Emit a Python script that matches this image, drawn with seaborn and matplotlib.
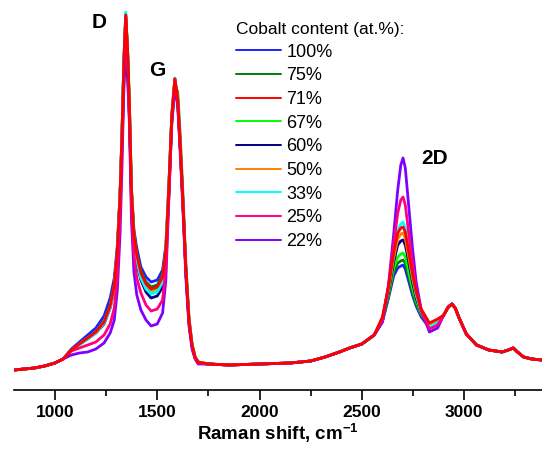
import pandas as pd
import matplotlib
matplotlib.use('Agg')
import matplotlib.pyplot as plt
import seaborn as sns
from matplotlib.ticker import MultipleLocator

# series labels (legend order) and colours
labels = ['100%', '75%', '71%', '67%', '60%', '50%', '33%', '25%', '22%']
colors = ['#2020ff', '#008000', '#ff0000', '#00ff00', '#000080',
          '#ff8000', '#00ffff', '#ff0080', '#8000ff']

# Raman shift grid, cm-1 (pieces)
x_a = [800, 850, 900, 950, 1000, 1040]
x_b = [1080, 1120, 1160, 1200, 1240, 1270, 1290, 1305, 1318, 1328, 1337, 1346,
       1355, 1364, 1374, 1386, 1400, 1420, 1445, 1470, 1500, 1526, 1542, 1556,
       1571, 1586, 1600, 1612, 1625, 1640, 1655, 1670, 1685, 1700]
x_c = [1750, 1850, 2000, 2150, 2250, 2320, 2390, 2440, 2500, 2560]
x_d = [2600, 2630, 2655, 2675, 2690, 2701, 2712, 2727, 2747, 2765, 2790, 2830, 2870]
x_e = [2900, 2922, 2940, 2956, 2975, 3010, 3060, 3120, 3185, 3215, 3240, 3260,
       3290, 3330, 3380]

# intensity (a.u.) where all spectra coincide
y_a = [20, 21, 22, 24, 27, 31]
y_c = [26, 25, 26, 27, 29, 33, 38, 42, 46, 55]
y_e = [75, 83, 86, 82, 72, 56, 45, 40, 38, 40, 42, 38, 33, 31, 30]

# D / G band region, per sample
b_100 = [41, 48, 55, 62, 74, 92, 112, 145, 195, 250, 305, 340, 310, 270, 200, 160, 142,
         123, 113, 108, 110, 120, 145, 203, 272, 305, 287, 243, 188, 118, 68, 44, 32, 27]
b_75 = [40, 46, 52, 58, 69, 85, 106, 140, 195, 258, 328, 373, 340, 286, 202, 157, 137,
        119, 108, 103, 105, 115, 138, 192, 265, 305, 298, 255, 198, 125, 73, 46, 33, 28]
b_71 = [40, 46, 52, 58, 68, 84, 105, 140, 195, 260, 330, 375, 340, 285, 200, 155, 135,
        117, 106, 101, 103, 113, 140, 200, 275, 311, 290, 245, 190, 120, 70, 45, 33, 28]
b_67 = [40, 46, 52, 58, 68, 84, 104, 139, 194, 259, 330, 376, 340, 284, 199, 154, 134,
        116, 105, 100, 102, 112, 140, 200, 275, 311, 290, 245, 190, 120, 70, 45, 33, 28]
b_60 = [40, 46, 51, 57, 66, 82, 102, 137, 192, 258, 328, 374, 338, 280, 192, 148, 126,
        110, 98, 92, 94, 103, 132, 195, 272, 310, 289, 244, 189, 118, 68, 44, 32, 27]
b_50 = [40, 46, 52, 57, 67, 83, 103, 138, 193, 259, 330, 376, 339, 283, 197, 152, 131,
        113, 102, 97, 99, 109, 138, 199, 275, 312, 291, 245, 190, 120, 70, 45, 33, 28]
b_33 = [40, 45, 51, 57, 67, 82, 102, 137, 193, 260, 332, 378, 341, 283, 196, 150, 129,
        112, 101, 96, 98, 108, 137, 199, 275, 312, 290, 245, 190, 120, 70, 45, 33, 28]
b_25 = [39, 42, 45, 48, 55, 66, 82, 115, 175, 245, 320, 374, 335, 275, 185, 135, 112,
        97, 85, 79, 81, 90, 122, 192, 272, 311, 290, 245, 190, 119, 69, 44, 32, 27]
b_22 = [35, 37, 38, 41, 47, 57, 70, 100, 155, 225, 305, 372, 330, 265, 170, 118, 95,
        80, 70, 64, 66, 77, 110, 188, 268, 302, 284, 238, 183, 112, 64, 41, 31, 26]

# 2D band region, per sample
d_100 = [68, 92, 114, 122, 124, 125, 121, 110, 95, 84, 73, 62, 66]
d_75 = [69, 94, 118, 127, 129, 130, 127, 115, 98, 86, 75, 63, 67]
d_71 = [73, 103, 137, 157, 162, 163, 158, 140, 116, 98, 81, 67, 71]
d_67 = [70, 96, 122, 133, 136, 137, 133, 120, 102, 89, 76, 64, 68]
d_60 = [70, 98, 128, 145, 149, 150, 145, 130, 108, 92, 77, 63, 67]
d_50 = [71, 100, 132, 151, 156, 157, 152, 135, 112, 95, 78, 64, 68]
d_33 = [71, 102, 138, 160, 166, 168, 162, 142, 115, 96, 78, 63, 67]
d_25 = [70, 104, 145, 177, 190, 193, 185, 160, 127, 100, 79, 61, 65]
d_22 = [68, 105, 155, 200, 225, 232, 222, 188, 142, 108, 80, 58, 62]

b_parts = [b_100, b_75, b_71, b_67, b_60, b_50, b_33, b_25, b_22]
d_parts = [d_100, d_75, d_71, d_67, d_60, d_50, d_33, d_25, d_22]

rows = []
x_all = x_a + x_b + x_c + x_d + x_e
for lab, b, d in zip(labels, b_parts, d_parts):
    y_all = y_a + b + y_c + d + y_e
    for xv, yv in zip(x_all, y_all):
        rows.append({'shift': xv, 'intensity': yv, 'Cobalt': lab})
df = pd.DataFrame(rows)

sns.set_style('white')
plt.rcParams['font.family'] = ['Liberation Sans', 'DejaVu Sans']
plt.rcParams['mathtext.default'] = 'regular'
plt.rcParams['text.color'] = 'black'
plt.rcParams['axes.labelcolor'] = 'black'
plt.rcParams['xtick.color'] = 'black'

fig = plt.figure(figsize=(5.42, 4.49), dpi=100)
ax = fig.add_axes([14 / 542, 59 / 449, 1 - 14 / 542, 390 / 449])

sns.lineplot(data=df, x='shift', y='intensity', hue='Cobalt', hue_order=labels,
             palette=dict(zip(labels, colors)), estimator=None, sort=False,
             linewidth=2.0, ax=ax)

# red and pink spectra sit on top of the bundle
for line, lab in zip(ax.lines, labels):
    if lab == '71%':
        line.set_zorder(3)
    elif lab == '25%':
        line.set_zorder(2.8)
    elif lab == '22%':
        line.set_zorder(2.6)

ax.set_xlim(800, 3380)
ax.set_ylim(0, 390)
ax.set_yticks([])
ax.set_ylabel('')
for s in ['top', 'right', 'left']:
    ax.spines[s].set_visible(False)
ax.spines['bottom'].set_linewidth(1.2)
ax.spines['bottom'].set_color('black')
ax.xaxis.set_major_locator(MultipleLocator(500))
ax.xaxis.set_minor_locator(MultipleLocator(250))
ax.tick_params(axis='x', which='major', direction='out', length=7, width=1.2,
               colors='black', labelsize=12.5, pad=4, bottom=True)
ax.tick_params(axis='x', which='minor', direction='out', length=4, width=1.2,
               colors='black', bottom=True)
for t in ax.get_xticklabels():
    t.set_fontweight('bold')
ax.set_xlabel('Raman shift, cm$^{-1}$', fontsize=13.5, fontweight='bold', labelpad=1)

# band labels
ax.text(1216, 368, 'D', fontsize=15, fontweight='bold', ha='center', va='center')
ax.text(1500, 320, 'G', fontsize=15, fontweight='bold', ha='center', va='center')
ax.text(2853, 231, '2D', fontsize=15, fontweight='bold', ha='center', va='center')

handles, labs = ax.get_legend_handles_labels()
leg = ax.legend(handles=handles, labels=labs, title='Cobalt content (at.%):',
                loc='upper left', bbox_to_anchor=(227 / 542, 1 - 13 / 449),
                bbox_transform=fig.transFigure, frameon=False, fontsize=13,
                title_fontsize=12.5, handlelength=2.5, handletextpad=0.3,
                labelspacing=0.37, borderpad=0, alignment='left')
for h in leg.get_lines():
    h.set_linewidth(1.4)

fig.savefig('out.png', dpi=100)
